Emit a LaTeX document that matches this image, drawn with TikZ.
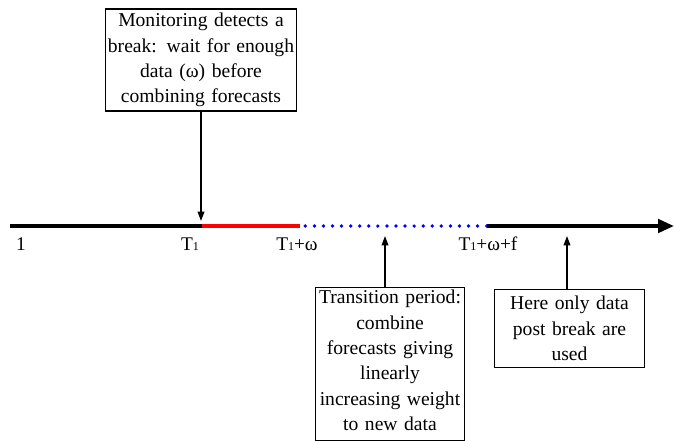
\documentclass[tikz,border=0pt]{standalone}
\usepackage{fontspec}
\setmainfont{Liberation Serif}
\usetikzlibrary{arrows.meta,positioning}

\newcommand{\Tone}{T{\fontsize{9}{9}\selectfont 1}}

\tikzset{
  note/.style={draw=black, line width=0.8pt, align=center, inner xsep=1.5pt, inner ysep=2pt,
    font=\fontsize{14.7}{19}\selectfont},
  tick/.style={font=\fontsize{14.5}{15}\selectfont, inner sep=0pt},
  pointer/.style={line width=1.1pt, -{Triangle[length=7pt,width=5pt]}},
  axis/.style={line width=2.8pt}
}

\begin{document}
\begin{tikzpicture}[x=0.75pt, y=-0.75pt]
\useasboundingbox (0,0) rectangle (674,440);

% time axis
\coordinate (start) at (10,226);
\coordinate (brk) at (202,226);
\coordinate (wait) at (300,226);
\coordinate (trans) at (487,226);
\coordinate (stop) at (674,226);

\draw[axis] (start) -- (brk);
\draw[axis, red] (brk) -- (wait);
\draw[axis, blue, line cap=round, dash pattern=on 0pt off 6.8pt] ([xshift=4pt]wait) -- (trans);
\draw[axis, -{Triangle[length=12pt,width=10pt]}] (trans) -- (stop);

% labels under the axis
\node[tick] (one) at (21,244) {1};
\node[tick] (t1) at (190,244) {\Tone};
\node[tick] (t1w) at (297,244) {\Tone+ω};
\node[tick] (t1wf) at (488,244) {\Tone+ω+f};

% boxes
\node[note, text width=140pt, minimum height=76.5pt] (monitor) at (201,60)
  {Monitoring detects a\\ break: wait for enough\\ data (ω) before\\ combining forecasts};
\node[note, text width=109pt, anchor=north] (transition) at (390,287)
  {Transition period:\\ combine\\ forecasts giving\\ linearly\\ increasing weight\\ to new data\strut};
\node[note, text width=110pt, minimum height=58.5pt, anchor=north] (postbreak) at (569.5,289)
  {Here only data\\ post break are\\ used};

% pointers
\coordinate (hitbrk) at (201,221);
\coordinate (hittrans) at (385,236);
\coordinate (hitpost) at (567,236);
\draw[pointer] (monitor.south -| hitbrk) -- (hitbrk);
\draw[pointer] (transition.north -| hittrans) -- (hittrans);
\draw[pointer] (postbreak.north -| hitpost) -- (hitpost);
\end{tikzpicture}
\end{document}
